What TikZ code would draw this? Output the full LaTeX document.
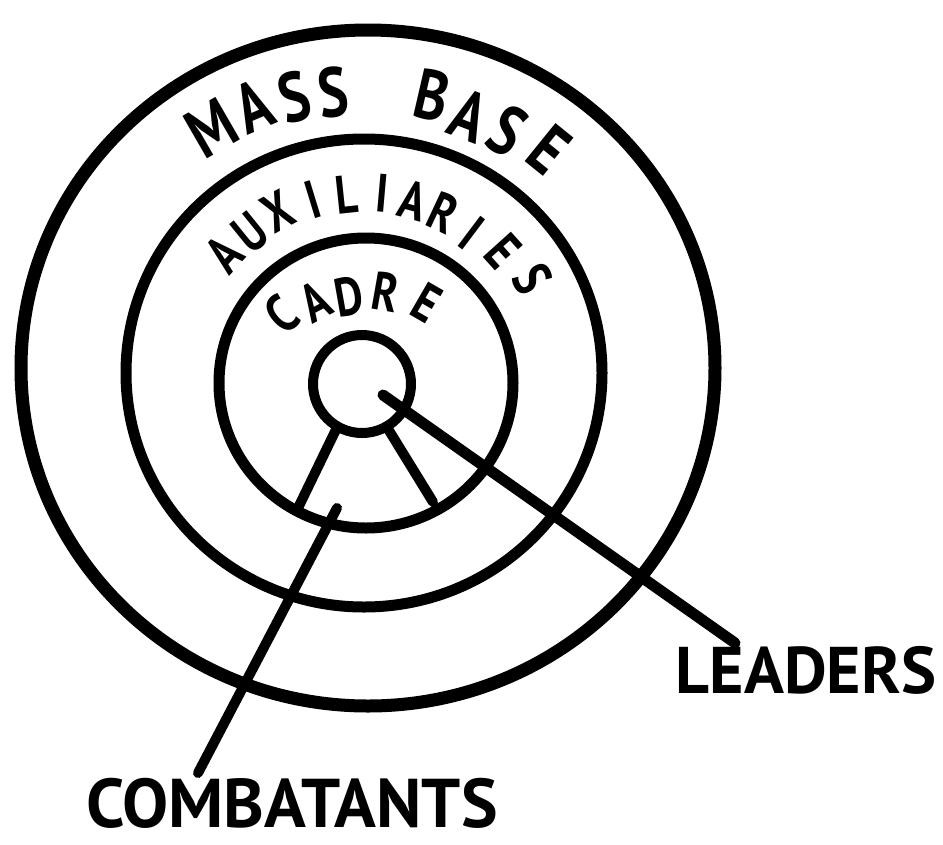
\documentclass[tikz,border=0pt]{standalone}
\usepackage{fontspec}
\setmainfont{PT Sans}
\newfontfamily\narrowhand{PT Sans}[FakeStretch=0.8]
\begin{document}
\begin{tikzpicture}[x=1pt,y=-1pt,
  ring/.style={line width=11pt},
  stroke/.style={line width=10pt,line cap=round},
  bigtxt/.style={font=\narrowhand\fontsize{70}{70}\selectfont\bfseries, inner sep=0pt},
  midtxt/.style={font=\narrowhand\fontsize{54}{54}\selectfont\bfseries, inner sep=0pt},
  labtxt/.style={font=\fontsize{66}{66}\selectfont\bfseries, inner sep=0pt}]
\useasboundingbox (0,0) rectangle (943,844);
% rings
\draw[ring, line width=13pt] (368,368) ellipse [x radius=347pt, y radius=338pt];
\draw[ring] (364,373) ellipse [x radius=238pt, y radius=234pt];
\draw[ring] (366,383) ellipse [x radius=147pt, y radius=145pt];
\node[draw, circle, line width=10pt, minimum size=98pt, inner sep=0pt, outer sep=0pt] (core) at (362,384) {};
% ring labels
\foreach \ch/\x/\y/\r [count=\i] in {M/212/128/30, A/253/106/23, S/294/97/15, S/333/92/7,
  B/432/95/-13, A/469/116/-21, S/508/131/-30, E/549/150/-39}
  \node[bigtxt, rotate=\r] (mb\i) at (\x,\y) {\ch};
\foreach \ch/\x/\y/\r [count=\i] in {A/224/254/48, U/250/233/39, X/278/211/28, I/313/200/17,
  L/347/195/6, I/382/193/-5, A/413/200/-15, R/443/213/-25, I/472/233/-37, E/503/251/-48, S/533/279/-60}
  \node[midtxt, rotate=\r] (au\i) at (\x,\y) {\ch};
\foreach \ch/\x/\y/\r [count=\i] in {C/282/314/40, A/315/302/28, D/349/296/10, R/386/292/-10, E/427/303/-30}
  \node[midtxt, rotate=\r] (ca\i) at (\x,\y) {\ch};
% outside labels
\node[labtxt] (leaders) at (806,670) {LEADERS};
\node[labtxt, font=\fontsize{69}{69}\selectfont\bfseries] (combatants) at (292,803) {COMBATANTS};
% connectors
\coordinate (lstart) at (383,395);
\coordinate (lend) at (735,643);
\coordinate (cstart) at (337,508);
\coordinate (cend) at (198,773);
\coordinate (wl) at (298,508);
\coordinate (wr) at (433,502);
\draw[stroke, line width=11pt] (lstart) -- (lend);
\draw[stroke] (cstart) -- (cend);
\draw[stroke] (core.240) -- (wl);
\draw[stroke] (core.300) -- (wr);
\end{tikzpicture}
\end{document}
